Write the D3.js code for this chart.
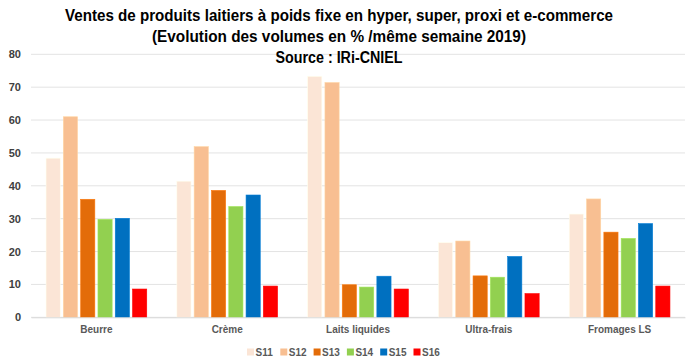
<!DOCTYPE html>
<html><head><meta charset="utf-8">
<script src="https://cdn.jsdelivr.net/npm/d3@7"></script>
<style>body{margin:0;background:#fff}svg{display:block}</style>
</head><body><svg id="c" width="690" height="360"></svg>
<script>
const categories = ["Beurre","Crème","Laits liquides","Ultra-frais","Fromages LS"];
const seriesNames = ["S11","S12","S13","S14","S15","S16"];
const S11 = [48.4, 41.4, 73.3, 22.7, 31.4];
const S12 = [61.0, 51.9, 71.4, 23.2, 36.0];
const S13 = [35.9, 38.6, 9.9, 12.6, 25.9];
const S14 = [29.8, 33.7, 9.2, 12.2, 24.0];
const S15 = [30.1, 37.2, 12.5, 18.5, 28.5];
const S16 = [8.6, 9.5, 8.6, 7.2, 9.5];
const yTicks = [0,10,20,30,40,50,60,70,80];
const titleLines = ["Ventes de produits laitiers à poids fixe en hyper, super, proxi et e-commerce","(Evolution des volumes en % /même semaine 2019)","Source : IRi-CNIEL"];
const titleWidths = [548, 374, 127];
const colors = ["#FBE5D6","#F8BF92","#E36C09","#92D050","#0070C0","#FF0000"];

const seriesVals = [S11,S12,S13,S14,S15,S16];
const svg = d3.select("#c");
const font = "'Liberation Sans',Arial,sans-serif";
const margin = {left:31, right:5, top:54.3, bottom:42.7};
const W = 690, H = 360;
const x0 = d3.scaleBand().domain(categories).range([margin.left, W-margin.right]).paddingInner(0.23).paddingOuter(0.115);
const x1 = d3.scaleBand().domain(seriesNames).range([0, x0.bandwidth()]).paddingInner(0.18);
const y = d3.scaleLinear().domain([0,80]).range([H-margin.bottom, margin.top]);

// grid
svg.append("g").selectAll("line").data(yTicks).join("line")
  .attr("x1", margin.left).attr("x2", W-margin.right)
  .attr("y1", d=>y(d)).attr("y2", d=>y(d))
  .attr("stroke", "#e3e3e3").attr("stroke-width", 1);

// y axis labels
const yAxis = d3.axisLeft(y).tickValues(yTicks).tickSize(0).tickPadding(0);
const ya = svg.append("g").attr("transform", `translate(21,0)`).call(yAxis);
ya.select(".domain").remove();
ya.selectAll("text").attr("font-family", font).attr("font-weight","bold").attr("font-size", 11).attr("fill","#404040");

// bars
const g = svg.append("g");
categories.forEach((c, ci) => {
  seriesNames.forEach((s, si) => {
    const v = seriesVals[si][ci];
    g.append("rect")
      .attr("x", x0(c) + x1(s)).attr("width", x1.bandwidth())
      .attr("y", y(v)).attr("height", y(0)-y(v))
      .attr("fill", colors[si])
      .attr("stroke", d3.color(colors[si]).brighter(0.3)).attr("stroke-width", 0.6);
  });
});

// x axis
const xAxis = d3.axisBottom(x0).tickSize(0).tickPadding(9);
const xa = svg.append("g").attr("transform", `translate(0,${y(0)})`).call(xAxis);
xa.select(".domain").attr("stroke","#d9d9d9");
xa.selectAll("text").attr("font-family", font).attr("font-weight","bold").attr("font-size", 10).attr("fill","#595959");

// title
svg.append("g").selectAll("text").data(titleLines).join("text")
  .attr("x", 339).attr("y", (d,i)=>20.5 + i*21)
  .attr("text-anchor","middle")
  .attr("textLength", (d,i)=>titleWidths[i]).attr("lengthAdjust","spacingAndGlyphs")
  .attr("font-family", font).attr("font-weight","bold").attr("font-size", 16).attr("fill","#000")
  .text(d=>d);

// legend
const lg = svg.append("g");
seriesNames.forEach((s,i)=>{
  const lx = 247 + i*33.3;
  lg.append("rect").attr("x", lx).attr("y", 348.5).attr("width",7).attr("height",7).attr("fill", colors[i]);
  lg.append("text").attr("x", lx+8.5).attr("y", 356).attr("font-family", font).attr("font-weight","bold")
    .attr("font-size", 10).attr("fill","#595959").text(s);
});
</script></body></html>
